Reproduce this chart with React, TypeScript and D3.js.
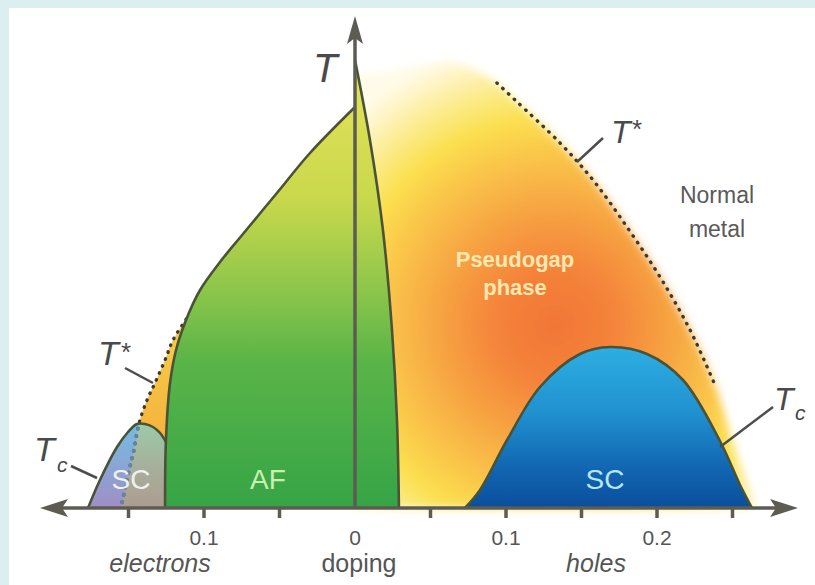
import React from "react";
import * as d3 from "d3";

const W = 815;
const H = 585;

// doping axis (negative = electron doped, positive = hole doped)
const tickValues = [-0.15, -0.1, -0.05, 0.05, 0.1, 0.15, 0.2, 0.25];
const tickLabelValues = [-0.1, 0, 0.1, 0.2];
const tickLabelText = ["0.1", "0", "0.1", "0.2"];

// antiferromagnetic boundary, electron side (bottom -> top)
const afLeftDoping = [-0.1258, -0.1252, -0.1225, -0.1185, -0.1119, -0.1026, -0.0894, -0.0742, -0.0517, -0.0298, 0];
const afLeftT = [0, 40.8, 75, 94.8, 112.8, 130.8, 147.6, 164.4, 189, 213, 240.6];

// antiferromagnetic boundary, hole side (top -> bottom)
const afRightDoping = [0, 0.0099, 0.0185, 0.0245, 0.0278, 0.0291];
const afRightT = [268.8, 220.8, 166.8, 106.8, 52.8, 0];

// superconducting dome, hole side
const scHoleDoping = [0.0728, 0.0828, 0.1007, 0.1225, 0.149, 0.1689, 0.1934, 0.2172, 0.2417, 0.255, 0.2629];
const scHoleT = [0, 10.8, 40.8, 72.6, 92.4, 96.6, 92.4, 76.8, 40.2, 13.8, 0];

// superconducting dome, electron side
const scElecDoping = [-0.1768, -0.1689, -0.1576, -0.1503, -0.1444, -0.1391, -0.1338, -0.1291, -0.1252];
const scElecT = [0, 16.8, 36.6, 45.6, 50.4, 50.4, 48.6, 45, 39.6];

// T* crossover, hole side (dotted)
const tStarHoleDoping = [0.094, 0.106, 0.1358, 0.1576, 0.1801, 0.202, 0.2219, 0.2384];
const tStarHoleT = [255, 244.8, 219, 196.8, 168.6, 138.6, 106.8, 73.8];

// soft top edge of the pseudogap region and its tail to the axis
const pgTopDoping = [0.0007, 0.0199, 0.043, 0.0629, 0.0762];
const pgTopT = [259.8, 261.6, 265.8, 267.6, 264];
const pgTailDoping = [0.2517, 0.2662];
const pgTailT = [34.8, 0];

// T* crossover, electron side (top -> bottom)
const tStarElecDoping = [-0.104, -0.1113, -0.1205, -0.1258, -0.1325, -0.1377, -0.143, -0.1464, -0.1503, -0.155];
const tStarElecT = [124.8, 114, 100.8, 88.8, 75, 64.8, 51, 34.8, 19.8, 0];

const x = d3.scaleLinear().domain([-0.2, 0.3]).range([53, 808]);
const y = d3.scaleLinear().domain([0, 300]).range([508, 8]);

const pts = (ds: number[], ts: number[]): [number, number][] =>
  ds.map((d, i) => [x(d), y(ts[i])]);
const smooth = d3.line().curve(d3.curveCatmullRom.alpha(0.5));
const asL = (p: string) => p.replace(/^M/, "L");

const axisColor = "#5c5c53";
const edgeColor = "#4a5238";
const labelColor = "#4a4a4a";
const font = "Liberation Sans, Arial, sans-serif";

export default function App() {
  const x0 = x(0);
  const y0 = y(0);

  const afPath =
    smooth(pts(afLeftDoping, afLeftT)) + asL(smooth(pts(afRightDoping, afRightT))!) + "Z";

  const scHolePath = smooth(pts(scHoleDoping, scHoleT)) + "Z";
  const scElecPath =
    smooth(pts(scElecDoping, scElecT)) + `L${x(-0.1258)},${y0}Z`;

  const pgPts = [
    ...pts(pgTopDoping, pgTopT),
    ...pts(tStarHoleDoping, tStarHoleT),
    ...pts(pgTailDoping, pgTailT),
  ];
  const pgPath = smooth(pgPts) + `L${x0},${y0}L${x0},${y(pgTopT[0])}Z`;

  const tStarElecPath = smooth(pts(tStarElecDoping, tStarElecT))!;
  const sliverPath =
    tStarElecPath + asL(smooth(pts(afLeftDoping.slice(0, 6), afLeftT.slice(0, 6)))!) + "Z";
  const rightOfTStar =
    tStarElecPath + `L${x(-0.155)},${y0 + 6}L${x(-0.05)},${y0 + 6}L${x(-0.05)},${y(130)}Z`;

  const tStarHolePath = smooth(pts(tStarHoleDoping, tStarHoleT))!;

  return (
    <svg width={W} height={H} style={{ position: "absolute", left: 0, top: 0 }} fontFamily={font}>
      <defs>
        <radialGradient id="pg" gradientUnits="userSpaceOnUse" cx={555} cy={325} r={290}>
          <stop offset="0" stopColor="#f27636" />
          <stop offset="0.2" stopColor="#f4833a" />
          <stop offset="0.4" stopColor="#f7a442" />
          <stop offset="0.6" stopColor="#fac84a" />
          <stop offset="0.72" stopColor="#fbe050" />
          <stop offset="0.84" stopColor="#fcec90" />
          <stop offset="0.95" stopColor="#fff6d0" />
          <stop offset="1" stopColor="#fffbe8" />
        </radialGradient>
        <linearGradient id="af" gradientUnits="userSpaceOnUse" x1={0} y1={60} x2={0} y2={508}>
          <stop offset="0" stopColor="#e6e65a" />
          <stop offset="0.105" stopColor="#dde055" />
          <stop offset="0.31" stopColor="#c9d84c" />
          <stop offset="0.51" stopColor="#8ec64a" />
          <stop offset="0.67" stopColor="#5ab548" />
          <stop offset="1" stopColor="#36a446" />
        </linearGradient>
        <linearGradient id="scH" gradientUnits="userSpaceOnUse" x1={0} y1={347} x2={0} y2={508}>
          <stop offset="0" stopColor="#2eaee2" />
          <stop offset="0.4" stopColor="#2092d0" />
          <stop offset="0.75" stopColor="#1266b2" />
          <stop offset="1" stopColor="#0a4e9c" />
        </linearGradient>
        <linearGradient id="scE" gradientUnits="userSpaceOnUse" x1={0} y1={424} x2={0} y2={508}>
          <stop offset="0" stopColor="#74bde2" />
          <stop offset="0.5" stopColor="#8aa6d4" />
          <stop offset="1" stopColor="#a08ec6" />
        </linearGradient>
        <linearGradient id="scE2" gradientUnits="userSpaceOnUse" x1={0} y1={424} x2={0} y2={508}>
          <stop offset="0" stopColor="#9ccaa8" />
          <stop offset="0.5" stopColor="#a6b09c" />
          <stop offset="1" stopColor="#ae9c90" />
        </linearGradient>
        <linearGradient id="sliver" gradientUnits="userSpaceOnUse" x1={0} y1={300} x2={0} y2={440}>
          <stop offset="0" stopColor="#f6d450" />
          <stop offset="1" stopColor="#f4b23c" />
        </linearGradient>
        <filter id="soft" x="-10%" y="-10%" width="120%" height="120%">
          <feGaussianBlur stdDeviation="4" />
        </filter>
        <clipPath id="rightT">
          <path d={rightOfTStar} />
        </clipPath>
        <clipPath id="domeE">
          <path d={scElecPath} />
        </clipPath>
      </defs>

      <rect width={W} height={H} fill="#dbeef0" />
      <rect x={9} y={8} width={W - 9} height={H - 8} fill="#ffffff" />

      {/* pseudogap (hole side) */}
      <path d={pgPath} fill="url(#pg)" filter="url(#soft)" />

      {/* electron side pseudogap sliver and SC dome */}
      <path d={sliverPath} fill="url(#sliver)" />
      <path d={scElecPath} fill="url(#scE)" />
      <path d={scElecPath} fill="url(#scE2)" clipPath="url(#rightT)" />
      <path d={tStarElecPath} fill="none" stroke="#3b3b33" strokeWidth={3.4}
        strokeDasharray="0.5 7" strokeLinecap="round" />
      <path d={tStarElecPath} fill="none" stroke="#6484a6" strokeWidth={3.8}
        strokeDasharray="0.5 7" strokeLinecap="round" clipPath="url(#domeE)" />
      <path d={smooth(pts(scElecDoping, scElecT))!} fill="none" stroke={edgeColor} strokeWidth={2.6} />

      {/* hole SC dome */}
      <path d={scHolePath} fill="url(#scH)" />
      <path d={smooth(pts(scHoleDoping, scHoleT))!} fill="none" stroke={edgeColor} strokeWidth={2.6} />

      {/* T* hole dotted */}
      <path d={tStarHolePath} fill="none" stroke="#3b3b33" strokeWidth={3.4}
        strokeDasharray="0.5 7.4" strokeLinecap="round" />

      {/* AF */}
      <path d={afPath} fill="url(#af)" />
      <path d={smooth(pts(afLeftDoping, afLeftT))!} fill="none" stroke={edgeColor} strokeWidth={2.6} />
      <path d={smooth(pts(afRightDoping, afRightT))!} fill="none" stroke={edgeColor} strokeWidth={2.6} />

      {/* axes */}
      <line x1={62} x2={778} y1={y0} y2={y0} stroke={axisColor} strokeWidth={3.5} />
      <line x1={x0} x2={x0} y1={y0} y2={36} stroke={axisColor} strokeWidth={3.5} />
      <path d={`M40,${y0}L68,${y0 - 9}L62,${y0}L68,${y0 + 9}Z`} fill={axisColor} />
      <path d={`M798,${y0}L770,${y0 - 9}L776,${y0}L770,${y0 + 9}Z`} fill={axisColor} />
      <path d={`M${x0},16L${x0 - 8},44L${x0},38L${x0 + 8},44Z`} fill={axisColor} />
      {tickValues.map((v) => (
        <line key={v} x1={x(v)} x2={x(v)} y1={y0} y2={y0 + 10} stroke={axisColor} strokeWidth={3.5} />
      ))}
      {tickLabelValues.map((v, i) => (
        <text key={i} x={x(v)} y={545} fontSize={21} fill="#555" textAnchor="middle">
          {tickLabelText[i]}
        </text>
      ))}
      <text x={160} y={572} fontSize={25} fontStyle="italic" fill="#555" textAnchor="middle">electrons</text>
      <text x={359} y={572} fontSize={25} fill="#555" textAnchor="middle">doping</text>
      <text x={596} y={572} fontSize={25} fontStyle="italic" fill="#555" textAnchor="middle">holes</text>

      {/* axis title */}
      <text x={313} y={82} fontSize={40} fontStyle="italic" fill={labelColor}>T</text>

      {/* region labels */}
      <text x={131} y={489} fontSize={28} fill="#eef1ee" textAnchor="middle">SC</text>
      <text x={268} y={489} fontSize={28} fill="#c8f0b0" textAnchor="middle">AF</text>
      <text x={605} y={489} fontSize={28} fill="#b8e6f8" textAnchor="middle">SC</text>
      <text x={515} y={267} fontSize={22} fontWeight="bold" fill="#fde8b0" textAnchor="middle">Pseudogap</text>
      <text x={515} y={295} fontSize={22} fontWeight="bold" fill="#fde8b0" textAnchor="middle">phase</text>
      <text x={717} y={203} fontSize={23} fill="#5a5a5a" textAnchor="middle">Normal</text>
      <text x={717} y={237} fontSize={23} fill="#5a5a5a" textAnchor="middle">metal</text>

      {/* leaders and curve labels */}
      <line x1={577} y1={162} x2={603} y2={138} stroke="#4d4d4d" strokeWidth={2.5} />
      <text x={611} y={143} fontSize={32} fontStyle="italic" fill={labelColor}>T</text>
      <text x={632} y={138} fontSize={26} fill={labelColor}>*</text>

      <line x1={720} y1={447} x2={773} y2={407} stroke="#4d4d4d" strokeWidth={2.5} />
      <text x={774} y={410} fontSize={32} fontStyle="italic" fill={labelColor}>T</text>
      <text x={795} y={420} fontSize={21} fontStyle="italic" fill={labelColor}>c</text>

      <line x1={125} y1={368} x2={153} y2={383} stroke="#4d4d4d" strokeWidth={2.5} />
      <text x={98} y={365} fontSize={34} fontStyle="italic" fill={labelColor}>T</text>
      <text x={121} y={361} fontSize={26} fill={labelColor}>*</text>

      <line x1={71} y1={466} x2={97} y2={478} stroke="#4d4d4d" strokeWidth={2.5} />
      <text x={34} y={461} fontSize={34} fontStyle="italic" fill={labelColor}>T</text>
      <text x={57} y={472} fontSize={21} fontStyle="italic" fill={labelColor}>c</text>
    </svg>
  );
}
